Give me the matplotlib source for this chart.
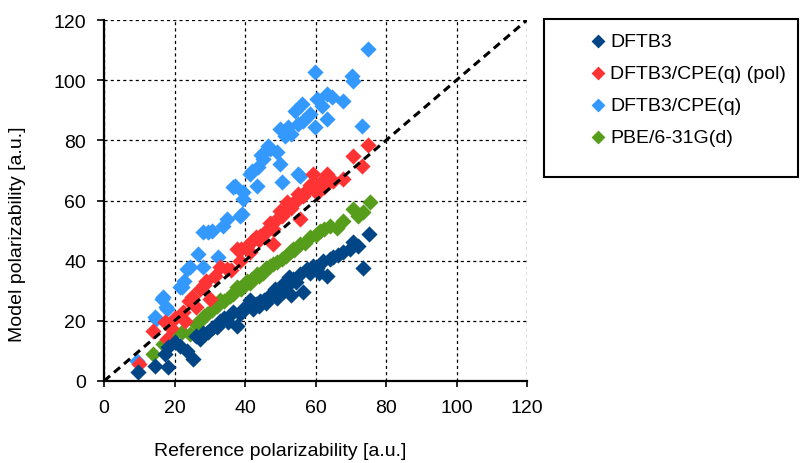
import matplotlib
matplotlib.use("Agg")
import matplotlib.pyplot as plt
from matplotlib.patches import Rectangle

plt.rcParams['font.family'] = ['Liberation Sans', 'DejaVu Sans']
plt.rcParams['font.size'] = 14

# DFTB3
dftb3_x = [9.7, 14.5, 18.2, 17.3, 18.2, 21.6, 25.2, 23.5, 27.2, 29.5, 32.0, 35.2, 37.7, 38.6,
           40.9, 44.3, 47.1, 49.9, 51.9, 56.5, 55.6, 59.3, 62.1, 63.3, 65.0, 67.8, 70.6, 69.8,
           73.5, 75.2, 53.6, 57.6, 42.3, 20.0, 26.0, 30.5, 34.0, 36.5, 39.5, 43.0, 45.5, 48.5,
           50.5, 52.5, 54.5, 58.5, 60.5, 61.0, 64.0, 66.5, 72.0, 33.0, 46.0, 28.0, 41.5, 44.0,
           47.5, 49.0, 51.0, 53.0]
dftb3_y = [3.0, 5.0, 4.6, 9.0, 11.3, 11.6, 7.3, 10.0, 14.0, 16.3, 18.0, 19.6, 18.3, 22.3,
           25.0, 26.6, 28.3, 29.6, 31.6, 29.6, 35.6, 38.2, 39.9, 34.9, 41.2, 42.9, 46.2, 43.9,
           37.6, 48.9, 33.9, 37.2, 23.9, 13.0, 15.0, 17.5, 21.0, 23.0, 24.0, 25.5, 27.0, 30.5,
           32.0, 34.5, 33.0, 36.0, 37.5, 36.0, 40.5, 42.0, 45.0, 20.0, 26.0, 16.0, 27.0, 25.0,
           29.0, 27.5, 30.0, 28.5]

# DFTB3/CPE(q) (pol)
pol_x = [9.8, 14.0, 17.3, 17.8, 22.5, 23.0, 27.2, 29.0, 30.0, 34.8, 37.7, 40.5, 44.3, 48.0,
         50.0, 53.3, 55.6, 59.3, 63.2, 67.8, 70.6, 73.2, 74.9, 20.0, 25.0, 26.0, 31.5, 33.0,
         36.0, 39.0, 42.0, 43.0, 46.0, 47.0, 49.0, 51.5, 52.0, 54.5, 56.5, 57.5, 58.5, 60.5,
         61.5, 62.5, 65.0, 48.0, 38.5, 28.5, 24.0, 41.5, 45.5, 50.5, 53.0, 55.0, 44.0, 19.0]
pol_y = [5.6, 16.6, 19.6, 14.0, 22.8, 20.0, 30.6, 33.3, 27.3, 37.2, 43.9, 45.0, 48.3, 50.5,
         56.6, 58.8, 53.9, 68.8, 68.8, 67.2, 74.8, 71.5, 78.5, 21.0, 28.0, 24.5, 35.0, 38.0,
         37.0, 44.0, 46.5, 48.0, 50.0, 52.5, 54.0, 57.0, 59.5, 60.0, 61.5, 63.5, 65.0, 62.5,
         66.0, 64.5, 66.5, 45.5, 40.0, 32.0, 26.5, 43.0, 49.0, 55.0, 57.5, 62.0, 47.0, 17.5]

# DFTB3/CPE(q)
cpe_x = [9.4, 14.8, 16.5, 17.6, 14.5, 17.8, 22.7, 21.6, 23.5, 16.7, 28.1, 32.3, 30.6, 34.9,
         39.1, 26.7, 28.1, 24.4, 22.1, 33.8, 29.5, 37.2, 39.5, 38.6, 36.6, 41.4, 43.3, 39.5,
         42.0, 43.7, 45.1, 49.9, 47.1, 49.0, 51.3, 49.9, 52.2, 55.0, 54.2, 56.5, 58.4, 59.9,
         56.2, 60.4, 61.8, 63.3, 64.7, 67.8, 63.3, 59.9, 70.4, 70.6, 74.9, 73.2, 50.5, 55.6,
         55.0, 44.5, 46.5, 53.0]
cpe_y = [6.6, 20.6, 27.3, 24.6, 21.3, 23.9, 33.3, 31.2, 37.2, 27.9, 49.5, 41.2, 49.9, 53.9,
         55.5, 42.2, 37.9, 37.9, 31.3, 51.5, 49.5, 64.9, 62.8, 54.9, 64.5, 68.8, 64.8, 60.5,
         69.8, 71.1, 73.8, 72.1, 77.1, 76.1, 81.5, 83.8, 84.4, 85.4, 89.8, 86.4, 88.8, 84.4,
         92.1, 93.8, 91.4, 87.1, 94.4, 93.1, 95.4, 102.7, 101.4, 99.7, 110.4, 84.8, 66.2, 68.2,
         68.8, 75.0, 78.0, 82.0]

# PBE/6-31G(d)
pbe_x = [13.9, 16.7, 22.1, 24.4, 27.2, 29.2, 32.0, 35.7, 37.7, 40.6, 43.4, 47.1, 50.5, 52.8,
         55.6, 58.4, 61.3, 64.1, 67.8, 70.6, 73.5, 75.5, 20.0, 26.0, 30.5, 34.0, 36.5, 39.0,
         42.0, 45.0, 46.0, 49.0, 51.5, 54.0, 57.0, 60.0, 62.5, 66.0, 72.0, 48.0, 41.5, 33.0,
         44.0, 53.5, 38.5, 28.5]
pbe_y = [9.0, 12.3, 16.3, 15.6, 20.0, 22.3, 25.0, 28.3, 31.2, 33.2, 35.6, 38.2, 40.6, 42.9,
         45.5, 47.9, 49.9, 51.5, 53.2, 57.2, 56.2, 59.5, 16.0, 19.0, 23.5, 26.5, 29.0, 30.5,
         34.0, 36.0, 37.5, 39.5, 41.5, 43.5, 46.0, 48.5, 50.5, 51.0, 55.0, 39.0, 32.5, 27.0,
         35.0, 44.0, 31.0, 21.5]

names = ['DFTB3', 'DFTB3/CPE(q) (pol)', 'DFTB3/CPE(q)', 'PBE/6-31G(d)']
colors = ['#004586', '#ff3333', '#3399ff', '#579d1c']

fig = plt.figure(figsize=(8.01, 4.64), dpi=100)
ax = fig.add_axes([104/801, 1-382/464, 423/801, 361/464])

ms = 68
h_cpe = ax.scatter(cpe_x, cpe_y, s=ms, marker='D', color=colors[2], linewidths=0, zorder=3)
h_pbe = ax.scatter(pbe_x, pbe_y, s=ms, marker='D', color=colors[3], linewidths=0, zorder=4)
h_pol = ax.scatter(pol_x, pol_y, s=ms, marker='D', color=colors[1], linewidths=0, zorder=5)
h_dftb = ax.scatter(dftb3_x, dftb3_y, s=ms, marker='D', color=colors[0], linewidths=0, zorder=6)

# y = x reference line
ax.plot([0, 120], [0, 120], color='black', lw=2.2, ls=(0, (2.6, 1.7)), zorder=7)

ax.set_xlim(0, 120)
ax.set_ylim(0, 120)
ax.set_xticks(range(0, 121, 20))
ax.set_yticks(range(0, 121, 20))
ax.grid(True, color='black', lw=0.9, ls=(0, (2.5, 2.5)))
ax.set_axisbelow(True)
for s in ['top', 'right']:
    ax.spines[s].set_visible(False)
for s in ['left', 'bottom']:
    ax.spines[s].set_linewidth(1.6)
ax.tick_params(axis='x', direction='out', length=4, width=1.2, pad=9)
ax.tick_params(axis='y', direction='out', length=5, width=1.2, pad=8)

fig.text(280/801, 1-452/464, 'Reference polarizability [a.u.]', ha='center', va='center')
fig.text(18/801, 1-234/464, 'Model polarizability [a.u.]', ha='center', va='center', rotation=90)

leg = fig.legend([h_dftb, h_pol, h_cpe, h_pbe], names, loc='upper left',
                 bbox_to_anchor=(588/801, 1-33/464), frameon=False, borderpad=0,
                 handlelength=1.0, handletextpad=0.15, labelspacing=0.75, borderaxespad=0)
for h in leg.legend_handles:
    h.set_sizes([50])
fig.patches.append(Rectangle((544/801, 1-178/464), 254/801, 158/464, transform=fig.transFigure,
                             fill=False, lw=1.5, ec='black'))

fig.savefig('out.png', dpi=100)
